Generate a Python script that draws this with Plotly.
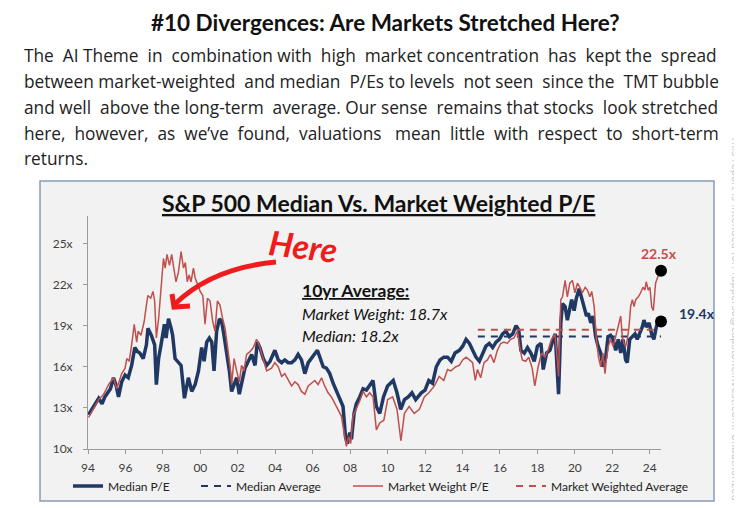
import plotly.graph_objects as go

# ---------------- data ----------------
median_x = [1994.03, 1994.3, 1994.57, 1994.75, 1994.9, 1995.2, 1995.36, 1995.49, 1995.63, 1995.8, 1995.98,
            1996.15, 1996.33, 1996.5, 1996.65, 1996.77, 1996.95, 1997.12, 1997.2, 1997.38, 1997.56, 1997.65,
            1997.77, 1997.9, 1998.08, 1998.17, 1998.3, 1998.44, 1998.52, 1998.65, 1998.79, 1998.97, 1999.15,
            1999.36, 1999.54, 1999.72, 1999.9, 2000.07, 2000.2, 2000.34, 2000.48, 2000.61, 2000.73, 2000.87,
            2001.02, 2001.14, 2001.26, 2001.41, 2001.55, 2001.67, 2001.8, 2001.94, 2002.08, 2002.2, 2002.38,
            2002.56, 2002.74, 2002.92, 2003.04, 2003.18, 2003.36, 2003.54, 2003.72, 2003.98, 2004.16, 2004.34,
            2004.51, 2004.69, 2004.87, 2005.05, 2005.22, 2005.4, 2005.58, 2005.76, 2005.93, 2006.11, 2006.25,
            2006.38, 2006.56, 2006.73, 2006.91, 2007.09, 2007.27, 2007.44, 2007.62, 2007.75, 2007.85, 2007.98,
            2008.07, 2008.21, 2008.33, 2008.51, 2008.69, 2008.87, 2009.04, 2009.22, 2009.4, 2009.58, 2009.78,
            2010.0, 2010.3, 2010.5, 2010.7, 2010.9, 2011.1, 2011.3, 2011.5, 2011.8, 2012.0, 2012.2, 2012.4,
            2012.6, 2012.8, 2013.0, 2013.2, 2013.4, 2013.6, 2013.83, 2014.01, 2014.19, 2014.37, 2014.54,
            2014.72, 2014.9, 2015.08, 2015.25, 2015.43, 2015.61, 2015.79, 2015.97, 2016.14, 2016.32, 2016.5,
            2016.68, 2016.86, 2017.0, 2017.12, 2017.3, 2017.47, 2017.65, 2017.83, 2018.0, 2018.19, 2018.31,
            2018.49, 2018.67, 2018.84, 2018.95, 2019.13, 2019.25, 2019.34, 2019.48, 2019.6, 2019.69, 2019.83,
            2019.96, 2020.08, 2020.23, 2020.35, 2020.49, 2020.62, 2020.72, 2020.85, 2020.97, 2021.11, 2021.24,
            2021.38, 2021.5, 2021.65, 2021.77, 2021.91, 2022.04, 2022.18, 2022.32, 2022.45, 2022.57, 2022.71,
            2022.8, 2022.93, 2023.07, 2023.21, 2023.33, 2023.46, 2023.6, 2023.69, 2023.81, 2023.96, 2024.1,
            2024.22, 2024.35, 2024.49, 2024.58]
median_pe = [12.5, 13.1, 13.7, 13.3, 13.8, 14.4, 15.2, 14.7, 13.8, 14.9, 15.4,
             15.2, 16.1, 17.4, 17.1, 17.0, 16.6, 17.6, 18.8, 18.3, 17.6, 14.7,
             16.6, 17.6, 19.1, 18.1, 19.5, 18.8, 18.3, 16.6, 16.4, 16.1, 13.7,
             15.2, 14.2, 14.7, 15.7, 17.4, 16.4, 17.8, 18.1, 17.8, 15.7, 18.6,
             19.5, 19.3, 18.3, 17.1, 15.7, 14.2, 14.7, 15.2, 14.0, 14.9, 15.9,
             16.4, 16.9, 16.1, 17.8, 17.4, 16.6, 16.1, 16.4, 17.2, 16.5, 16.3,
             16.5, 16.3, 16.3, 16.5, 16.9, 16.5, 15.5, 16.3, 16.6, 16.9, 17.2,
             16.7, 16.0, 15.9, 15.5, 14.8, 14.2, 13.6, 13.1, 10.9, 10.4, 11.2,
             10.7, 12.6, 13.3, 13.8, 14.4, 14.3, 14.6, 15.0, 13.1, 12.6, 13.8,
             14.6, 15.0, 14.1, 12.9, 13.6, 13.8, 14.1, 13.6, 14.1, 14.3, 15.0, 14.8,
             16.0, 16.5, 16.7, 16.7, 16.4, 17.0, 17.2, 17.5, 18.0, 17.7, 17.2,
             16.7, 16.4, 17.0, 17.5, 17.7, 17.4, 17.8, 18.0, 18.4, 18.6, 18.2,
             18.4, 19.0, 18.7, 17.2, 17.0, 17.4, 17.0, 16.4, 17.5, 17.7, 15.8,
             17.0, 17.2, 18.0, 18.4, 14.0, 19.2, 20.6, 20.4, 19.4, 20.0, 20.9,
             20.1, 21.0, 21.7, 21.1, 20.4, 19.7, 19.9, 19.2, 19.7, 18.2, 17.5,
             17.0, 16.0, 16.7, 18.2, 18.3, 18.0, 17.2, 18.0, 17.0, 18.0, 16.5,
             16.3, 18.0, 18.2, 18.4, 18.0, 18.4, 18.9, 19.4, 18.9, 19.2, 18.4,
             18.0, 18.9, 19.5, 19.4]

mw_x = [1994.03, 1994.3, 1994.57, 1994.84, 1995.1, 1995.36, 1995.54, 1995.8, 1995.98, 1996.07, 1996.2,
        1996.33, 1996.47, 1996.6, 1996.68, 1996.83, 1997.0, 1997.12, 1997.2, 1997.35, 1997.47, 1997.56,
        1997.65, 1997.77, 1997.9, 1998.03, 1998.12, 1998.22, 1998.35, 1998.47, 1998.58, 1998.7, 1998.83,
        1998.97, 1999.1, 1999.2, 1999.3, 1999.4, 1999.5, 1999.63, 1999.72, 1999.84, 1999.99, 2000.13,
        2000.25, 2000.38, 2000.52, 2000.66, 2000.78, 2000.91, 2001.05, 2001.19, 2001.32, 2001.44, 2001.58,
        2001.67, 2001.8, 2001.94, 2002.08, 2002.2, 2002.33, 2002.47, 2002.65, 2002.83, 2003.0, 2003.18,
        2003.36, 2003.54, 2003.8, 2003.98, 2004.16, 2004.34, 2004.51, 2004.69, 2004.87, 2005.05, 2005.22,
        2005.4, 2005.58, 2005.76, 2005.93, 2006.11, 2006.29, 2006.47, 2006.64, 2006.82, 2007.0, 2007.18,
        2007.36, 2007.53, 2007.71, 2007.8, 2007.92, 2008.03, 2008.15, 2008.33, 2008.51, 2008.69, 2008.87,
        2009.04, 2009.22, 2009.4, 2009.58, 2009.8, 2010.0, 2010.27, 2010.5, 2010.71, 2010.9, 2011.15,
        2011.42, 2011.7, 2011.96, 2012.2, 2012.5, 2012.75, 2013.0, 2013.2, 2013.38, 2013.64, 2013.83,
        2014.01, 2014.19, 2014.37, 2014.54, 2014.68, 2014.8, 2014.97, 2015.15, 2015.33, 2015.5, 2015.68,
        2015.86, 2016.04, 2016.21, 2016.39, 2016.57, 2016.75, 2016.93, 2017.05, 2017.19, 2017.37, 2017.54,
        2017.72, 2017.86, 2018.04, 2018.22, 2018.4, 2018.57, 2018.75, 2018.93, 2019.05, 2019.13, 2019.25,
        2019.34, 2019.48, 2019.6, 2019.73, 2019.87, 2020.0, 2020.14, 2020.26, 2020.4, 2020.55, 2020.67,
        2020.8, 2020.9, 2021.03, 2021.15, 2021.26, 2021.38, 2021.5, 2021.61, 2021.68, 2021.79, 2021.91,
        2022.04, 2022.18, 2022.32, 2022.45, 2022.53, 2022.62, 2022.71, 2022.8, 2022.89, 2022.98, 2023.07,
        2023.16, 2023.25, 2023.39, 2023.51, 2023.64, 2023.74, 2023.81, 2023.92, 2024.01, 2024.1, 2024.19,
        2024.31, 2024.44, 2024.58]
mw_pe = [12.3, 12.9, 13.6, 14.0, 14.7, 15.2, 14.4, 15.5, 15.9, 16.6, 16.4,
         17.6, 19.1, 17.8, 18.6, 18.3, 19.3, 20.5, 21.2, 21.0, 21.5, 20.8,
         18.1, 19.5, 22.0, 23.9, 23.2, 24.2, 23.4, 24.2, 23.2, 22.2, 22.9,
         24.4, 23.2, 23.6, 22.2, 22.7, 22.2, 23.2, 22.5, 22.0, 21.5, 21.2,
         19.1, 21.0, 20.8, 19.3, 18.6, 20.8, 20.5, 19.5, 18.8, 17.6, 16.1,
         14.7, 16.6, 15.7, 14.9, 16.1, 15.7, 16.9, 17.1, 17.4, 18.0, 17.4,
         16.6, 15.7, 15.9, 16.3, 16.0, 15.3, 15.5, 15.0, 14.6, 14.9, 14.7,
         14.2, 14.0, 14.6, 14.8, 15.0, 14.7, 15.2, 14.6, 14.1, 13.8, 13.3,
         12.9, 12.4, 10.9, 10.2, 10.9, 10.4, 12.4, 12.9, 13.5, 14.2, 13.8,
         14.1, 13.8, 11.4, 11.9, 12.1, 13.6, 13.8, 12.9, 10.6, 12.6, 13.1,
         12.6, 12.9, 13.8, 14.1, 14.6, 15.3, 15.0, 15.8, 15.7, 16.0, 16.1,
         16.5, 16.7, 16.5, 16.3, 15.0, 15.8, 15.2, 16.3, 16.5, 16.9, 16.3,
         17.2, 17.7, 17.8, 17.7, 18.0, 18.1, 18.6, 17.5, 16.5, 16.4, 16.7,
         15.9, 14.6, 16.0, 17.0, 16.7, 17.2, 18.0, 18.4, 16.7, 15.3, 20.9,
         21.1, 22.3, 21.1, 22.1, 22.3, 21.4, 22.1, 21.8, 21.4, 21.8, 21.6,
         21.1, 21.5, 20.4, 18.0, 16.7, 16.0, 17.0, 15.5, 16.5, 17.5, 18.0,
         17.5, 18.2, 18.9, 19.7, 18.2, 17.7, 17.5, 18.0, 18.9, 20.4, 20.9,
         20.4, 20.9, 21.1, 21.4, 21.8, 21.6, 22.2, 21.6, 21.8, 20.4, 20.1,
         22.1, 22.6, 22.8]

median_avg_x = [2014.82, 2024.7]
median_avg_y = [18.2, 18.2]
mw_avg_x = [2014.82, 2024.35]
mw_avg_y = [18.7, 18.7]

end_dot_x = [2024.6, 2024.6]
end_dot_y = [23.0, 19.3]

year_ticks = list(range(1994, 2025, 2))
year_labels = ["94", "96", "98", "00", "02", "04", "06", "08", "10", "12", "14", "16", "18", "20", "22", "24"]

NAVY = "#1f3864"
RED = "#c0504d"

# ---------------- layout helpers ----------------
# the page shows the figure 8px in from the top-left corner
OFF = 8
L, T, W, H = 88 - OFF, 216 - OFF, 573, 233
def PX(x):
    return (x - OFF - L) / W
def PY(y):
    return (T + H - (y - OFF)) / H

# approximate Open Sans advance widths (units per em = 2048), used to justify the paragraph
OS_W = {" ": 532, "\u00a0": 532, ",": 502, "-": 659, ".": 545, "/": 752, "\u2019": 356,
        "A": 1296, "E": 1124, "I": 586, "M": 1806, "O": 1599, "P": 1237, "T": 1106,
        "a": 1139, "b": 1255, "c": 975, "d": 1255, "e": 1149, "f": 694, "g": 1122, "h": 1257,
        "i": 518, "j": 518, "k": 1075, "l": 518, "m": 1905, "n": 1257, "o": 1237, "p": 1255,
        "q": 1255, "r": 836, "s": 977, "t": 723, "u": 1257, "v": 1026, "w": 1593, "x": 1073,
        "y": 1028, "z": 977}
BODY_SIZE = 17.3
BODY_LEFT, BODY_RIGHT = 22, 717

def text_w(s):
    return sum(OS_W.get(ch, 1100) for ch in s) / 2048.0 * BODY_SIZE

def justify(line):
    words = line.split(" ")
    gaps = len(words) - 1
    space_px = OS_W[" "] / 2048.0 * BODY_SIZE
    n = max(0, int(round((BODY_RIGHT - BODY_LEFT - text_w(line)) / space_px)))
    extra = [0] * gaps
    for k in range(n):
        extra[int((k + 0.5) * gaps / n) % gaps] += 1
    out = words[0]
    for g in range(gaps):
        out += " " + "\u00a0" * extra[g] + words[g + 1]
    return out

fig = go.Figure()
fig.add_trace(go.Scatter(x=median_x, y=median_pe, mode="lines", name="Median P/E",
                         line=dict(color=NAVY, width=3.5), legend="legend"))
fig.add_trace(go.Scatter(x=median_avg_x, y=median_avg_y, mode="lines", name="Median Average",
                         line=dict(color=NAVY, width=2, dash="7px,6px"), legend="legend2"))
fig.add_trace(go.Scatter(x=mw_x, y=mw_pe, mode="lines", name="Market Weight P/E",
                         line=dict(color=RED, width=1.5), legend="legend3"))
fig.add_trace(go.Scatter(x=mw_avg_x, y=mw_avg_y, mode="lines", name="Market Weighted Average",
                         line=dict(color=RED, width=2, dash="7px,6px"), legend="legend4"))
fig.add_trace(go.Scatter(x=end_dot_x, y=end_dot_y, mode="markers", showlegend=False,
                         marker=dict(color="black", size=12), cliponaxis=False))

shapes = [
    dict(type="rect", xref="paper", yref="paper", x0=PX(40), x1=PX(714), y0=PY(501), y1=PY(181),
         fillcolor="#f2f2f2", line=dict(color="#8b9bb4", width=1.5), layer="below"),
    dict(type="path", xref="paper", yref="paper",
         path="M %f,%f Q %f,%f %f,%f" % (PX(276), PY(262), PX(212), PY(268), PX(175), PY(304)),
         line=dict(color="#ee1c1c", width=5)),
    dict(type="path", xref="paper", yref="paper",
         path="M %f,%f L %f,%f L %f,%f" % (PX(172), PY(294), PX(174), PY(307), PX(190), PY(306)),
         line=dict(color="#ee1c1c", width=5)),
]

ann = []
def add_text(text, x, y, size, color="black", family="Lato", xanchor="center", angle=0):
    ann.append(dict(text=text, x=PX(x), y=PY(y), xref="paper", yref="paper", showarrow=False,
                    xanchor=xanchor, yanchor="middle", textangle=angle,
                    font=dict(family=family, size=size, color=color)))

add_text("<b>#10 Divergences: Are Markets Stretched Here?</b>", 385, 23, 22.5, "#111111")
body = ["The AI Theme in combination with high market concentration has kept the spread",
        "between market-weighted and median P/Es to levels not seen since the TMT bubble",
        "and well above the long-term average. Our sense remains that stocks look stretched",
        "here, however, as we\u2019ve found, valuations mean little with respect to short-term",
        "returns."]
for i, line in enumerate(body):
    txt = justify(line) if i < len(body) - 1 else line
    add_text(txt, BODY_LEFT, 56 + i * 25.7, BODY_SIZE, "#222222", family="Open Sans", xanchor="left")

add_text("<b><u>S&P 500 Median Vs. Market Weighted P/E</u></b>", 378, 203, 23, "#111111")
add_text("<b><u>10yr Average:</u></b>", 300, 290, 17.5, "#111111", xanchor="left")
add_text("<i>Market Weight: 18.7x</i>", 300, 313, 16, "#111111", xanchor="left")
add_text("<i>Median: 18.2x</i>", 300, 335, 16, "#111111", xanchor="left")
add_text("<b>22.5x</b>", 659, 253, 14, RED)
add_text("<b>19.4x</b>", 697, 313, 14, NAVY)
add_text("<b><i>Here</i></b>", 303, 245, 34, "#ee1c1c", angle=7)
add_text("This report is intended for: rapperso@capstoneinvest.com. Unauthorized", 736, 318, 10,
         "#c8c8c8", family="DejaVu Sans", angle=90)

leg_common = dict(orientation="h", yanchor="middle", xanchor="left", bgcolor="rgba(0,0,0,0)",
                  font=dict(family="Lato", size=12, color="#222222"), borderwidth=0)
legend_starts = [68, 196, 348, 511]

fig.update_layout(
    width=742, height=508,
    margin=dict(l=L, r=742 - L - W, t=T, b=508 - T - H),
    paper_bgcolor="white", plot_bgcolor="rgba(0,0,0,0)",
    font=dict(family="Lato", size=12, color="#404040"),
    shapes=shapes, annotations=ann,
    showlegend=True,
    legend=dict(x=PX(legend_starts[0]), y=PY(486), **leg_common),
    legend2=dict(x=PX(legend_starts[1]), y=PY(486), **leg_common),
    legend3=dict(x=PX(legend_starts[2]), y=PY(486), **leg_common),
    legend4=dict(x=PX(legend_starts[3]), y=PY(486), **leg_common),
    xaxis=dict(range=[1994, 2024.6], tickvals=year_ticks, ticktext=year_labels, showgrid=False,
               zeroline=False, showline=True, linecolor="#9a9a9a", linewidth=1, ticks="outside",
               ticklen=4, tickcolor="#9a9a9a", ticklabelstandoff=4,
               tickfont=dict(family="Lato", size=12, color="#404040")),
    yaxis=dict(range=[10, 27], tick0=10, dtick=3, ticksuffix="x", showgrid=False, zeroline=False,
               showline=True, linecolor="#9a9a9a", linewidth=1, ticks="outside", ticklen=4,
               tickcolor="#9a9a9a", ticklabelstandoff=8,
               tickfont=dict(family="Lato", size=12, color="#404040")),
)

fig.write_html("out.html")
